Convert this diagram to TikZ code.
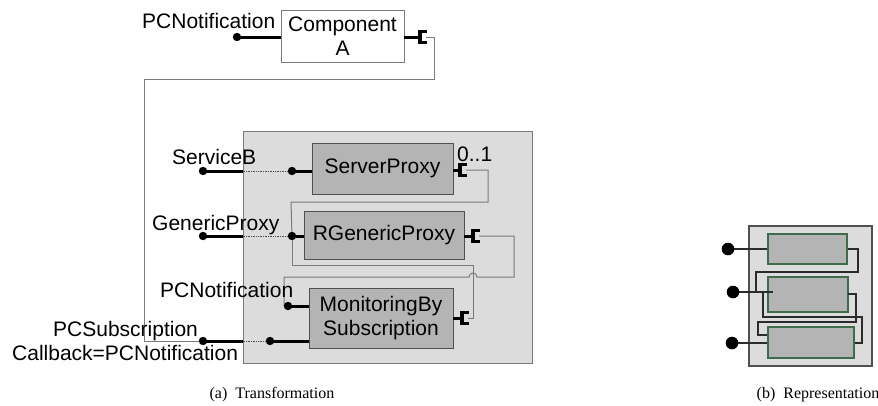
\documentclass[tikz,border=0pt]{standalone}
\usepackage{fontspec}
\setmainfont{Liberation Sans}
\newfontfamily\captionfont{Liberation Serif}
\usetikzlibrary{calc}
\definecolor{panel}{HTML}{DCDCDC}
\definecolor{compfill}{HTML}{B4B4B4}
\definecolor{compline}{HTML}{505050}
\definecolor{wirecol}{HTML}{7A7A7A}
\definecolor{repline}{HTML}{2B2B2B}
\definecolor{repgreen}{HTML}{3E6B4C}
% required-interface socket: a bracket opening to the right, bar at #1
\newcommand\socketat[1]{%
  \draw[sock] ($(#1)+(6.5,-5.5)$) -- ($(#1)+(0,-5.5)$) -- ($(#1)+(0,5.5)$) -- ($(#1)+(6.5,5.5)$);}
\begin{document}
\begin{tikzpicture}[x=1pt,y=-1pt,
  lbl/.style={font=\fontsize{21}{24}\selectfont, inner sep=0},
  comp/.style={draw=compline, fill=compfill, line width=0.9, inner sep=0,
    align=center, font=\fontsize{21}{24}\selectfont},
  plain/.style={comp, fill=white, draw=wirecol},
  wire/.style={draw=wirecol, line width=1},
  portline/.style={draw=black, line width=3},
  sock/.style={draw=black, line width=3.4, line cap=butt, line join=miter},
  link/.style={draw=black!70, line width=0.7, densely dotted},
  pdot/.style={fill=black},
  captext/.style={font=\captionfont\fontsize{16}{19}\selectfont, inner sep=0, anchor=base},
  reppanel/.style={draw=compline, fill=panel, line width=1.4, inner sep=0},
  repbox/.style={draw=repgreen, fill=compfill, line width=1.2, inner sep=0},
  repwire/.style={draw=repline, line width=1.5},
]
\useasboundingbox (0,0) rectangle (878,405);

% ---------------- (a) Transformation ----------------
% component A
\node[plain, minimum width=123, minimum height=52] (A) at (342.5,36) {Component\\A};
\coordinate (Ap) at (237,37);
\coordinate (As) at (420,37);
\coordinate (Aso) at (426,37);
\node[lbl, anchor=base west] (lA) at (142,28) {PCNotification};

% container
\node[draw=wirecol, fill=panel, line width=1, inner sep=0,
      minimum width=289, minimum height=232] (box) at (387.5,247) {};

% inner components
\node[comp, minimum width=141, minimum height=51] (SP) at (382.5,168.5) {ServerProxy};
\node[comp, minimum width=160, minimum height=48] (RG) at (384,235) {RGenericProxy};
\node[comp, minimum width=144, minimum height=60] (MB) at (381,318) {MonitoringBy\\Subscription};

% port positions
\coordinate (e1) at (203,171);  \coordinate (p1) at (292,171);
\coordinate (e2) at (203,236);  \coordinate (p2) at (292,236);
\coordinate (p3) at (288,306);
\coordinate (e4) at (203,341);  \coordinate (p4) at (270,341);
\coordinate (s1) at (460,170);  \coordinate (s1o) at (466,170);
\coordinate (s2) at (473,236);  \coordinate (s2o) at (479,236);
\coordinate (s3) at (462,318);  \coordinate (s3o) at (468,318);

% assembly wires
\draw[wire] (Aso) -- (434,37) -- (434,79) -- (144,79) -- (144,341) -- (e4);
\draw[wire] (s1o) -- (488,170) -- (488,202) -- (291,202) -- (p2);
\draw[wire] (p2) -- (292,265) -- (473,265) -- (473,318) -- (s3o);
\draw[wire] (s2o) -- (514,236) -- (514,277) -- (477,277)
  arc[start angle=0, end angle=-180, radius=4] -- (284,277) -- (284,306) -- (p3);

% delegation links through the container border
\draw[link] (box.west |- e1) -- (p1);
\draw[link] (box.west |- e2) -- (p2);
\draw[link] (box.west |- e4) -- (p4);

% provided ports
\draw[portline] (Ap) -- (A.west |- Ap);
\draw[portline] (e1) -- (box.west |- e1);
\draw[portline] (p1) -- (SP.west |- p1);
\draw[portline] (e2) -- (box.west |- e2);
\draw[portline] (p2) -- (RG.west |- p2);
\draw[portline] (p3) -- (MB.west |- p3);
\draw[portline] (e4) -- (box.west |- e4);
\draw[portline] (p4) -- (MB.west |- p4);
\foreach \p in {Ap,e1,p1,e2,p2,p3,e4,p4} \fill[pdot] (\p) circle[radius=4.2];

% required ports
\draw[portline] (A.east |- As) -- (As);   \socketat{As}
\draw[portline] (SP.east |- s1) -- (s1); \socketat{s1}
\draw[portline] (RG.east |- s2) -- (s2); \socketat{s2}
\draw[portline] (MB.east |- s3) -- (s3); \socketat{s3}

% labels
\node[lbl, anchor=base west] (l1) at (172,164) {ServiceB};
\node[lbl, anchor=base west] (l2) at (152,230) {GenericProxy};
\node[lbl, anchor=base west] (l0) at (457,161) {0..1};
\node[lbl, anchor=base west] (l3) at (160,297) {PCNotification};
\node[lbl, anchor=base west] (l4) at (53,336) {PCSubscription};
\node[lbl, anchor=base west] (l5) at (12,360) {Callback=PCNotification};

\node[captext] (capa) at (272,398) {(a)~~Transformation};

% ---------------- (b) Representation ----------------
\node[reppanel, minimum width=123, minimum height=140] (R) at (810.5,296) {};
\node[repbox, minimum width=79, minimum height=30] (r1) at (807.5,249) {};
\node[repbox, minimum width=80, minimum height=35] (r2) at (808,294.5) {};
\node[repbox, minimum width=86, minimum height=31] (r3) at (811,342.5) {};

\coordinate (d1) at (728,249);
\coordinate (d2) at (733,292);
\coordinate (d3) at (732,343);
\coordinate (q2) at (773,292);

\draw[repwire] (r1.east |- d1) -- (858,249) -- (858,272) -- (756,272) -- (756,292);
\draw[repwire] (r3.east |- d3) -- (862,343) -- (862,317) -- (763,317) -- (763,292);
\draw[repwire] (848,294) -- (856,294) -- (856,322) -- (758,322) -- (758,335) -- (r3.west |- 0,335);
\draw[repwire] (d1) -- (r1.west |- d1);
\draw[repwire] (d2) -- (q2);
\draw[repwire] (d3) -- (r3.west |- d3);
\foreach \p in {d1,d2,d3} \fill[pdot] (\p) circle[radius=6.3];

\node[captext] (capb) at (818,398) {(b)~~Representation};
\end{tikzpicture}
\end{document}
